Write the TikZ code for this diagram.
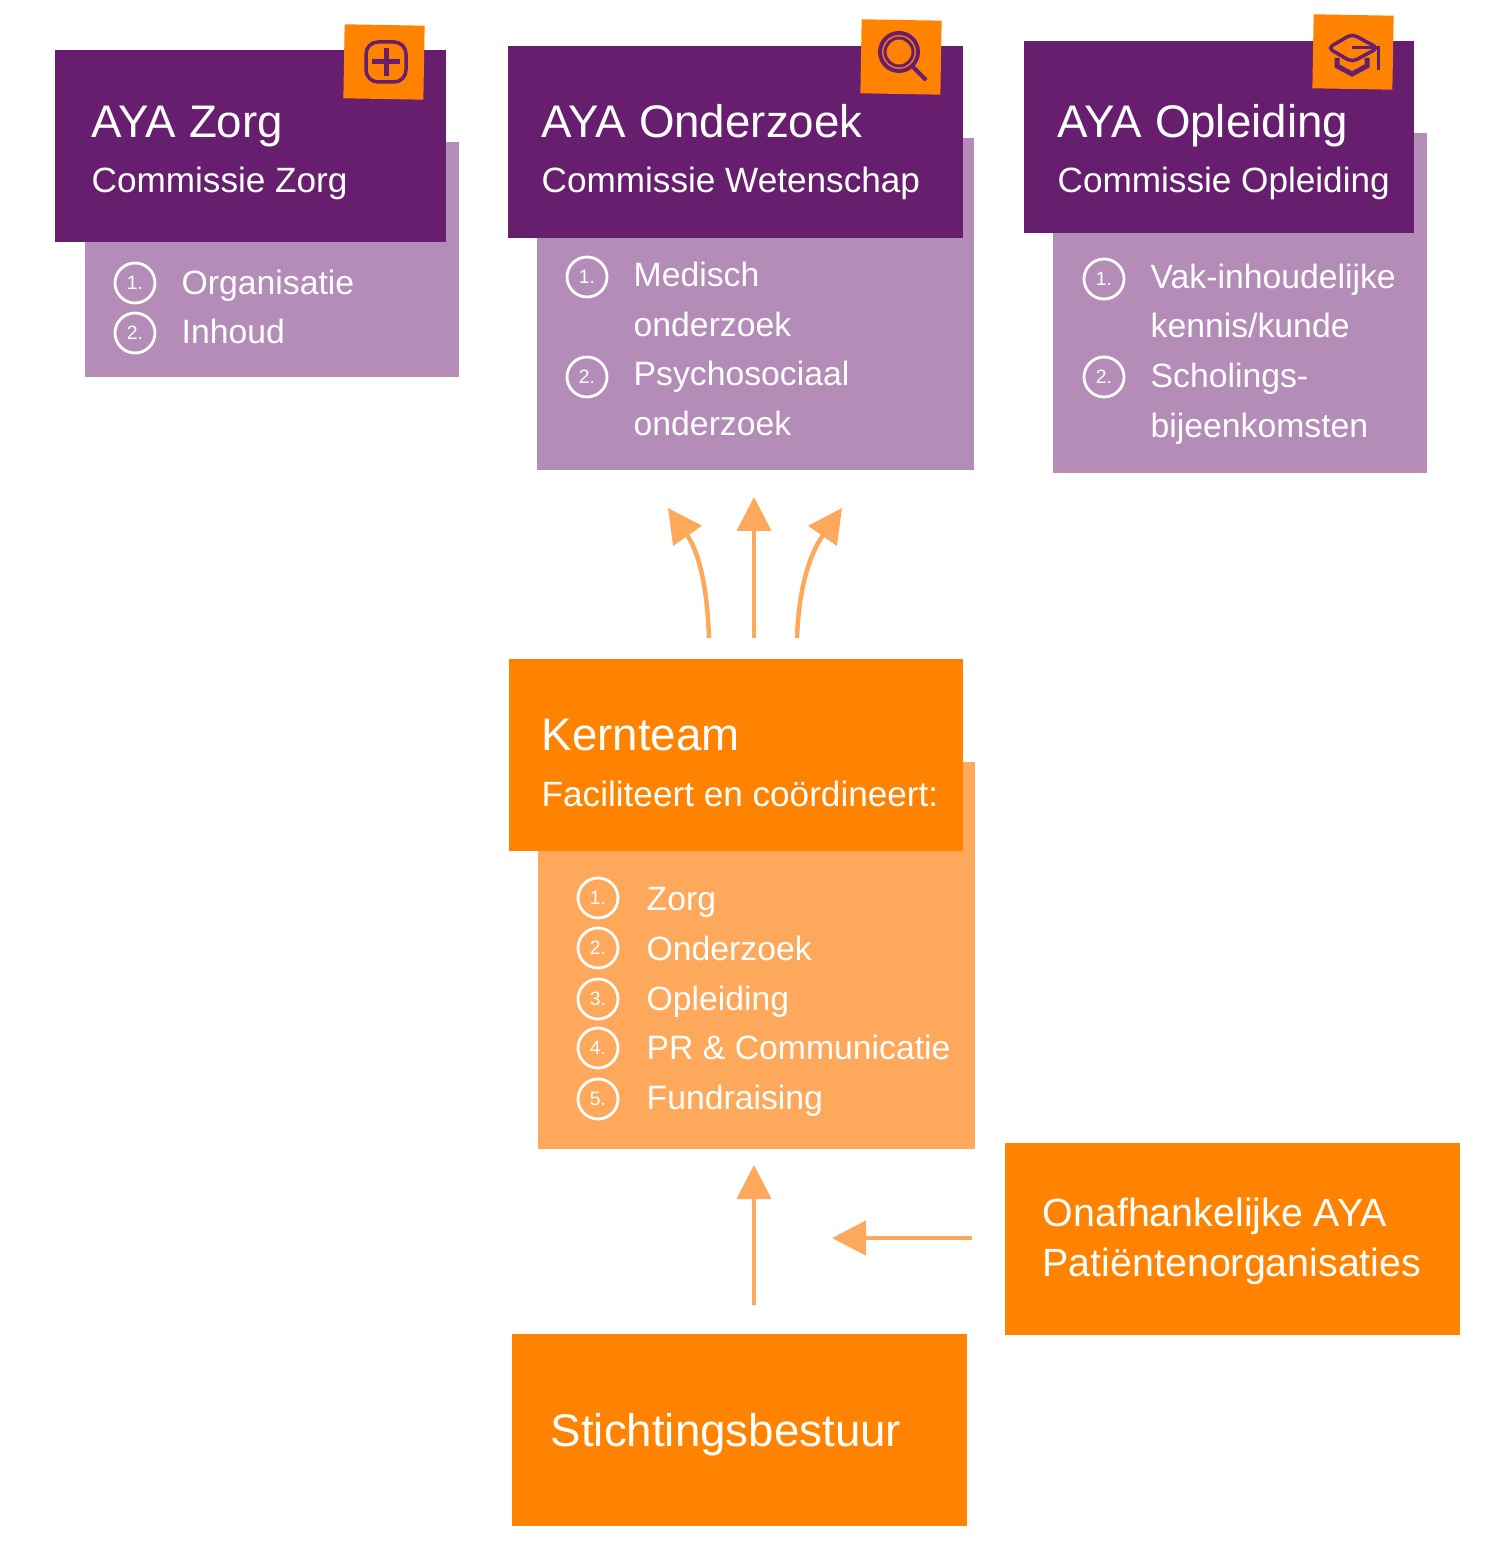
\documentclass[tikz,border=0pt]{standalone}
\usepackage{fontspec}
\setmainfont{Liberation Sans}
\usetikzlibrary{arrows.meta,positioning}
\definecolor{ayapurple}{HTML}{671E6E}
\definecolor{ayalilac}{HTML}{B48CB8}
\definecolor{ayaorange}{HTML}{FF8200}
\definecolor{ayapeach}{HTML}{FDA85A}
\newcommand{\numitem}[4]{% name, x, y, number
  \node[num] (#1) at (#2,#3) {#4.};}
\begin{document}
\begin{tikzpicture}[x=0.1mm,y=-0.1mm,>={Triangle[length=3.4mm,width=3.4mm]},
    dark/.style={fill=ayapurple,draw=none,anchor=north west,inner sep=0pt},
    light/.style={fill=ayalilac,draw=none,anchor=north west,inner sep=0pt},
    hot/.style={fill=ayaorange,draw=none,anchor=north west,inner sep=0pt},
    warm/.style={fill=ayapeach,draw=none,anchor=north west,inner sep=0pt},
    tag/.style={fill=ayaorange,draw=none,minimum width=8mm,minimum height=7.4mm,inner sep=0pt,rotate=-1},
    title/.style={anchor=base west,text=white,font=\fontsize{13}{15}\selectfont,inner sep=0pt},
    sub/.style={anchor=base west,text=white,font=\fontsize{10}{12}\selectfont,inner sep=0pt},
    item/.style={anchor=base west,text=white,font=\fontsize{9.6}{12}\selectfont,inner sep=0pt},
    num/.style={circle,draw=white,thick,text=white,minimum size=4mm,inner sep=0pt,font=\fontsize{5.5}{6}\selectfont},
    flow/.style={->,draw=ayapeach,line width=0.45mm}]
\useasboundingbox (0,0) rectangle (1500,1561);
% AYA Zorg
\node[light,minimum width=37.4mm,minimum height=23.5mm] (zorgL) at (84,141) {};
\node[dark,minimum width=39.1mm,minimum height=19.2mm] (zorgD) at (54,49) {};
\node[tag] (zorgT) at (384,62) {};
\draw[ayapurple,line width=0.35mm,rounded corners=1.2mm] (366,42) rectangle (406,82);
\draw[ayapurple,line width=0.5mm] (372,62) -- (400,62) (386,48) -- (386,76);
\node[title] (zorgH) at (91,138) {AYA Zorg};
\node[sub] (zorgS) at (91,193) {Commissie Zorg};
\numitem{z1}{135}{283}{1}
\numitem{z2}{135}{333}{2}
\node[item] (z1t) at (181,295) {Organisatie};
\node[item] (z2t) at (181,344) {Inhoud};
% AYA Onderzoek
\node[light,minimum width=43.7mm,minimum height=33.2mm] (ondL) at (536,137) {};
\node[dark,minimum width=45.5mm,minimum height=19.2mm] (ondD) at (507,45) {};
\node[tag] (ondT) at (901,57) {};
\draw[ayapurple,line width=0.4mm] (899,52) circle (19);
\draw[ayapurple,line width=0.3mm] (899,52) circle (14);
\draw[ayapurple,line width=0.4mm] (912,66) -- (926,80);
\node[title] (ondH) at (541,138) {AYA Onderzoek};
\node[sub] (ondS) at (541,193) {Commissie Wetenschap};
\numitem{o1}{587}{277}{1}
\numitem{o2}{587}{377}{2}
\node[item] (o1t) at (633,287) {Medisch};
\node[item] (o1u) at (633,337) {onderzoek};
\node[item] (o2t) at (633,386) {Psychosociaal};
\node[item] (o2u) at (633,436) {onderzoek};
% AYA Opleiding
\node[light,minimum width=37.4mm,minimum height=34mm] (oplL) at (1052,132) {};
\node[dark,minimum width=39mm,minimum height=19.2mm] (oplD) at (1023,40) {};
\node[tag] (oplT) at (1353,52) {};
\draw[ayapurple,line width=0.35mm,rounded corners=0.5mm] (1328,48) -- (1352,34) -- (1378,48) -- (1352,62) -- cycle;
\draw[ayapurple,line width=0.5mm] (1337,58) -- (1337,66) -- (1352,74) -- (1367,66) -- (1367,58);
\draw[ayapurple,line width=0.3mm] (1352,48) -- (1378,48) -- (1378,70);
\node[title] (oplH) at (1057,138) {AYA Opleiding};
\node[sub] (oplS) at (1057,193) {Commissie Opleiding};
\numitem{p1}{1104}{279}{1}
\numitem{p2}{1104}{377}{2}
\node[item] (p1t) at (1150,289) {Vak-inhoudelijke};
\node[item] (p1u) at (1150,338) {kennis/kunde};
\node[item] (p2t) at (1150,388) {Scholings-};
\node[item] (p2u) at (1150,438) {bijeenkomsten};
% Kernteam
\node[warm,minimum width=43.7mm,minimum height=38.7mm] (kernL) at (537,761) {};
\node[hot,minimum width=45.4mm,minimum height=19.2mm] (kernD) at (508,658) {};
\node[title] (kernH) at (541,750) {Kernteam};
\node[sub] (kernS) at (541,806) {Faciliteert en coördineert:};
\numitem{k1}{598}{898}{1}
\numitem{k2}{598}{948}{2}
\numitem{k3}{598}{999}{3}
\numitem{k4}{598}{1048}{4}
\numitem{k5}{598}{1099}{5}
\node[item] (k1t) at (646,910) {Zorg};
\node[item] (k2t) at (646,960) {Onderzoek};
\node[item] (k3t) at (646,1010) {Opleiding};
\node[item] (k4t) at (646,1059) {PR \& Communicatie};
\node[item] (k5t) at (646,1109) {Fundraising};
% onderste blokken
\node[hot,minimum width=45.5mm,minimum height=19.2mm] (patD) at (1004,1142) {};
\node[anchor=base west,text=white,font=\fontsize{11.2}{13}\selectfont,inner sep=0pt] (patT) at (1042,1226) {Onafhankelijke AYA};
\node[anchor=base west,text=white,font=\fontsize{11.2}{13}\selectfont,inner sep=0pt] (patU) at (1042,1276) {Patiëntenorganisaties};
\node[hot,minimum width=45.5mm,minimum height=19.2mm] (bestD) at (511,1333) {};
\node[title] (bestT) at (550,1446) {Stichtingsbestuur};
% pijlen
\coordinate (upL) at (709,638);
\coordinate (upM) at (754,638);
\coordinate (upR) at (797,638);
\coordinate (tipL) at (668,508);
\coordinate (tipM) at (754,497);
\coordinate (tipR) at (842,508);
\draw[flow] (upL) to[out=92,in=-55] (tipL);
\draw[flow] (upM) -- (tipM);
\draw[flow] (upR) to[out=88,in=-125] (tipR);
\coordinate (bestUp) at (754,1305);
\coordinate (kernIn) at (754,1165);
\coordinate (patOut) at (972,1238);
\coordinate (patIn) at (832,1238);
\draw[flow] (bestUp) -- (kernIn);
\draw[flow] (patOut) -- (patIn);
\end{tikzpicture}
\end{document}
